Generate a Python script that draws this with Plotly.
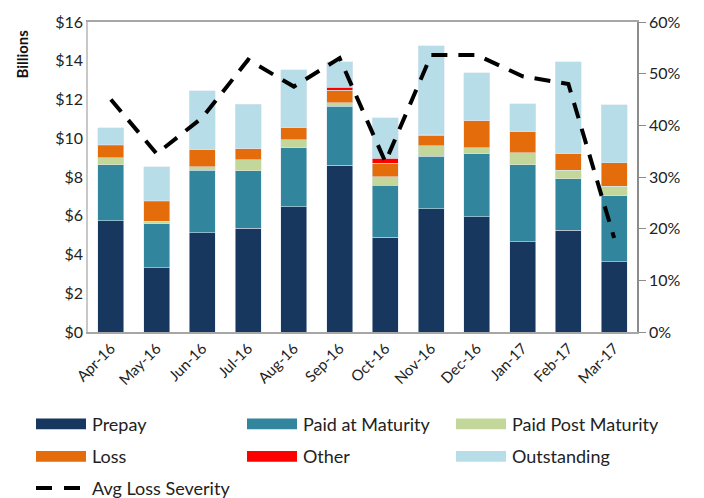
import plotly.graph_objects as go

months = ["Apr-16", "May-16", "Jun-16", "Jul-16", "Aug-16", "Sep-16",
          "Oct-16", "Nov-16", "Dec-16", "Jan-17", "Feb-17", "Mar-17"]
prepay = [5.75, 3.32, 5.13, 5.35, 6.47, 8.60, 4.88, 6.36, 5.96, 4.67, 5.25, 3.62]
paid_at_maturity = [2.88, 2.27, 3.23, 2.96, 3.04, 3.05, 2.70, 2.70, 3.25, 3.96, 2.67, 3.42]
paid_post_maturity = [0.37, 0.13, 0.17, 0.59, 0.41, 0.18, 0.44, 0.55, 0.29, 0.61, 0.44, 0.48]
loss = [0.62, 1.00, 0.88, 0.58, 0.61, 0.66, 0.69, 0.55, 1.42, 1.09, 0.85, 1.22]
other = [0.05, 0.05, 0.00, 0.00, 0.00, 0.14, 0.25, 0.03, 0.00, 0.00, 0.00, 0.00]
outstanding = [0.88, 1.76, 3.05, 2.27, 3.00, 1.32, 2.11, 4.58, 2.45, 1.45, 4.74, 2.99]
avg_loss_severity = [0.450, 0.345, 0.415, 0.527, 0.475, 0.530, 0.329, 0.536, 0.536, 0.495, 0.480, 0.182]

series = [
    ("Prepay", prepay, "#17375E"),
    ("Paid at Maturity", paid_at_maturity, "#31859C"),
    ("Paid Post Maturity", paid_post_maturity, "#C4D79B"),
    ("Loss", loss, "#E46C0A"),
    ("Other", other, "#FF0000"),
    ("Outstanding", outstanding, "#B7DEE8"),
]

FONT = "Lato"
W, H = 704, 498
L, R, T, B = 88, 637, 18, 332

fig = go.Figure()
for name, vals, col in series:
    fig.add_trace(go.Bar(x=months, y=vals, name=name, marker_color=col,
                         marker_line=dict(color="rgba(220,230,240,0.9)", width=0.6),
                         showlegend=False))
fig.add_trace(go.Scatter(x=months, y=avg_loss_severity, name="Avg Loss Severity",
                         yaxis="y2", mode="lines",
                         line=dict(color="black", width=4, dash="16px,11px"),
                         showlegend=False))

fig.update_layout(
    width=W, height=H,
    margin=dict(l=L, r=W - R, t=T, b=H - B),
    barmode="stack", bargap=0.43,
    plot_bgcolor="white", paper_bgcolor="white",
    font=dict(family=FONT, size=15, color="#222"),
    xaxis=dict(showline=True, linecolor="#A6A6A6", linewidth=1.5, mirror=True,
               tickangle=-45, tickfont=dict(size=15), ticks="", showgrid=False),
    yaxis=dict(range=[0, 16], dtick=2, tickprefix="$", showgrid=False,
               showline=True, linecolor="#C8C8C8", linewidth=1.5, mirror=True,
               tickfont=dict(size=16), zeroline=False),
    yaxis2=dict(range=[0, 0.6], dtick=0.1, tickformat=".0%", overlaying="y",
                side="right", showgrid=False, showline=True, linecolor="#8C8C8C",
                linewidth=1.5, ticks="outside", ticklen=7, tickcolor="#8C8C8C",
                tickfont=dict(size=16), zeroline=False),
)

def px(xp):
    return (xp - L) / (R - L)

def py(yp):
    return (B - yp) / (B - T)

fig.add_annotation(xref="paper", yref="paper", x=px(22), y=py(51),
                   text="<b>Billions</b>", showarrow=False, textangle=-90,
                   xanchor="center", yanchor="middle",
                   font=dict(size=15, color="#111"))

legend_items = [
    ("Prepay", "#17375E", 36, 425), ("Paid at Maturity", "#31859C", 247, 425),
    ("Paid Post Maturity", "#C4D79B", 456, 425),
    ("Loss", "#E46C0A", 36, 458), ("Other", "#FF0000", 247, 458),
    ("Outstanding", "#B7DEE8", 456, 458),
]
for name, col, x0, yc in legend_items:
    fig.add_shape(type="rect", xref="paper", yref="paper",
                  x0=px(x0), x1=px(x0 + 50), y0=py(yc + 5.5), y1=py(yc - 5.5),
                  fillcolor=col, line=dict(width=0))
    fig.add_annotation(xref="paper", yref="paper", x=px(x0 + 54), y=py(yc),
                       text=name, showarrow=False, xanchor="left", yanchor="middle",
                       font=dict(size=18, color="#222"))
fig.add_shape(type="line", xref="paper", yref="paper",
              x0=px(36), x1=px(81), y0=py(490), y1=py(490),
              line=dict(color="black", width=4, dash="16px,12px"))
fig.add_annotation(xref="paper", yref="paper", x=px(90), y=py(490),
                   text="Avg Loss Severity", showarrow=False, xanchor="left",
                   yanchor="middle", font=dict(size=18, color="#222"))

fig.write_html("out.html")
